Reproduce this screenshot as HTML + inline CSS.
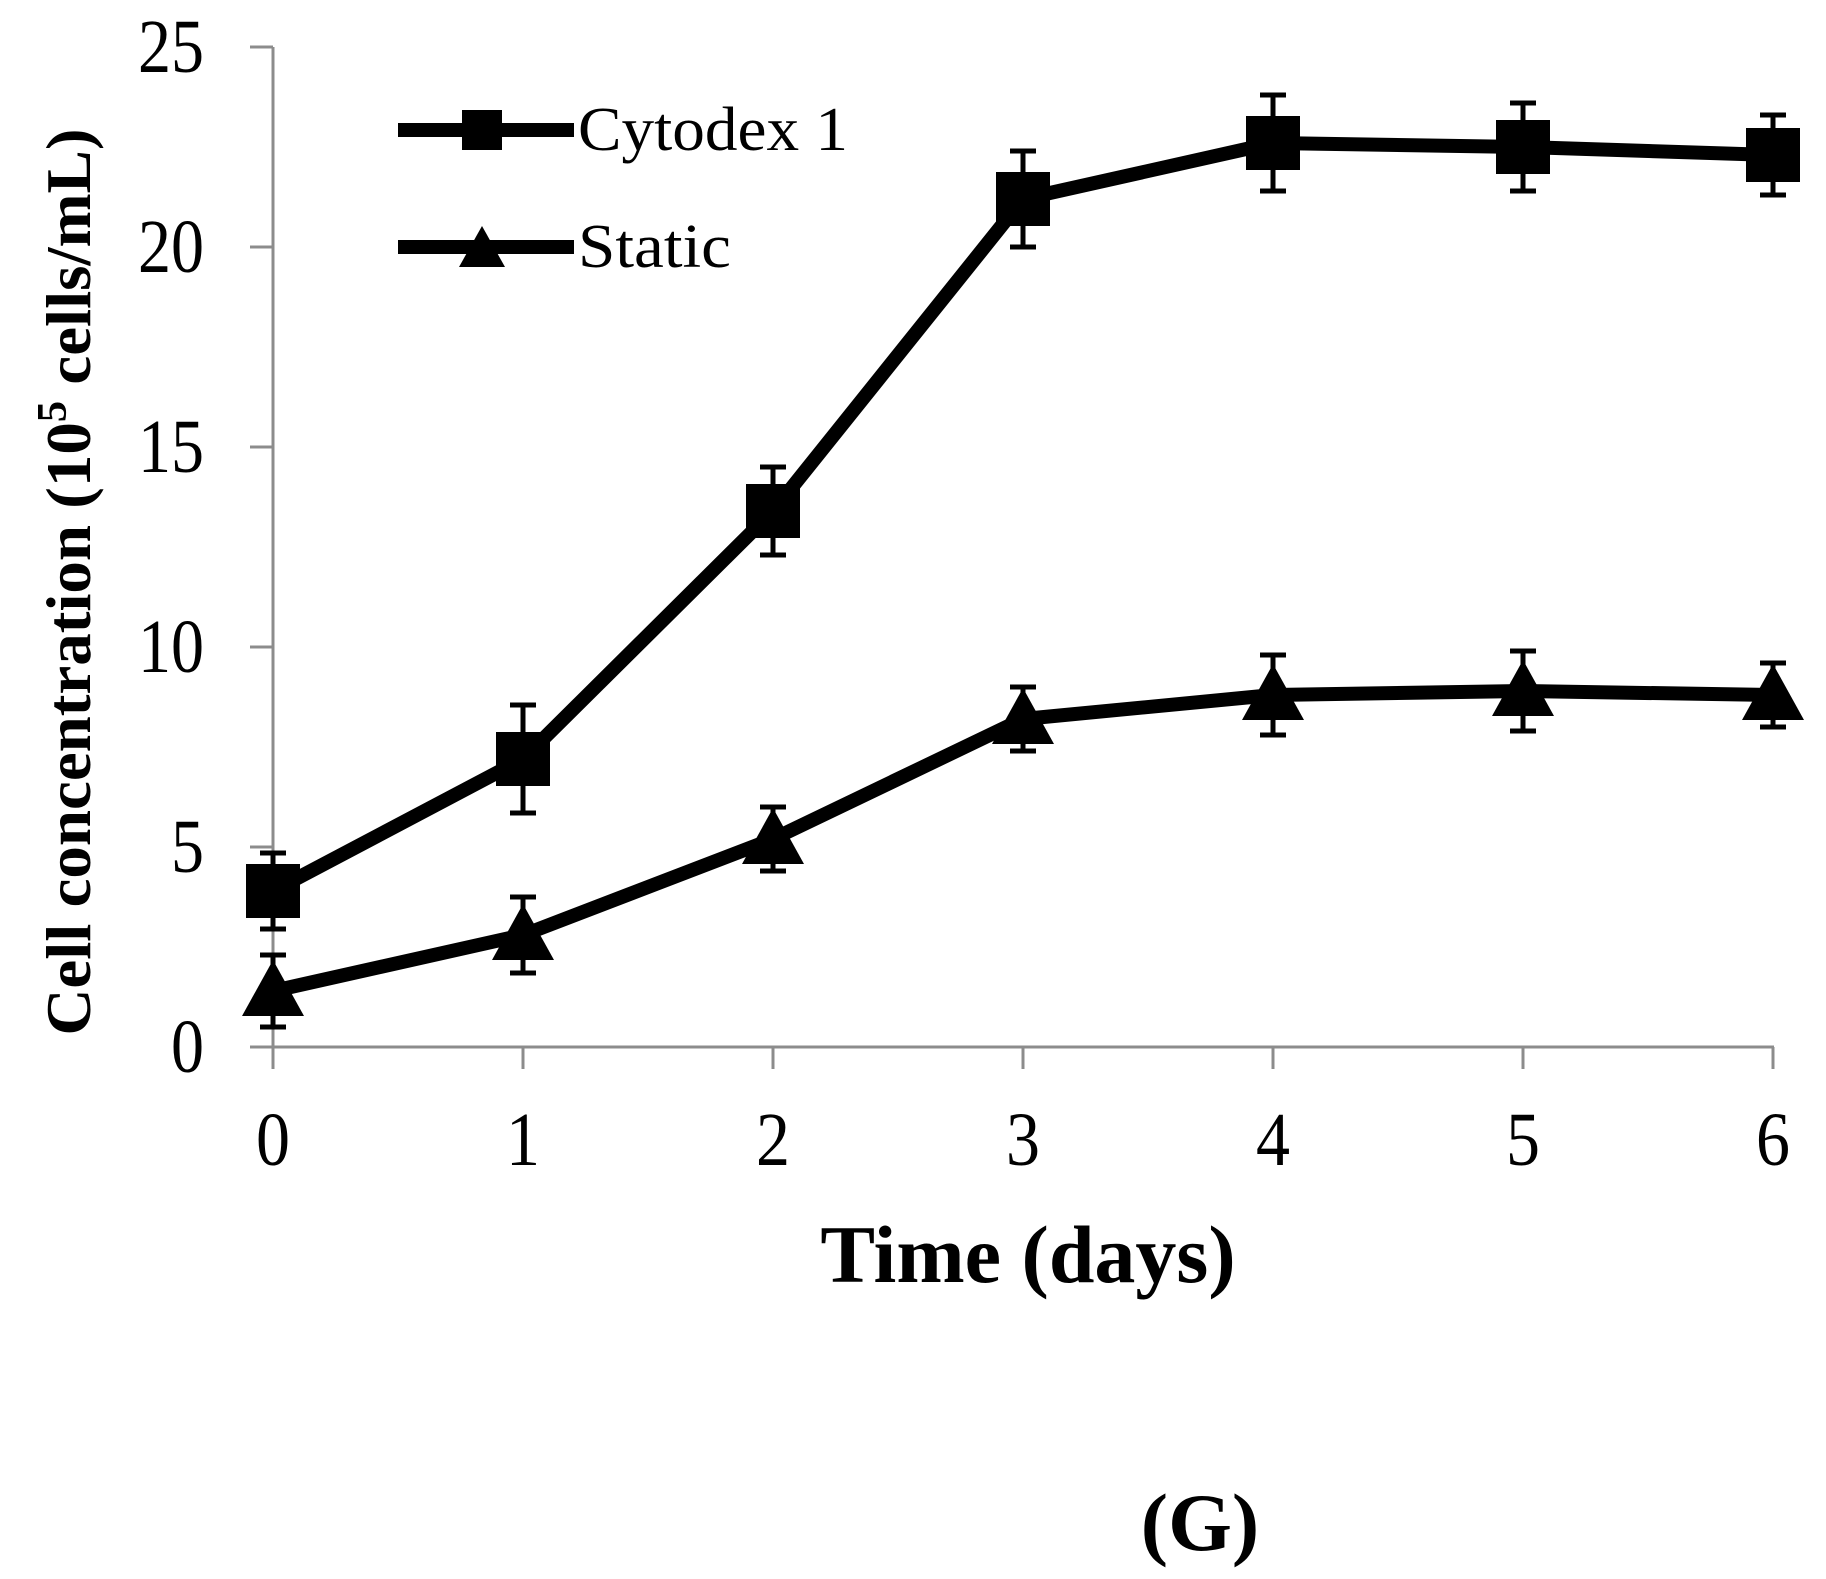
<!DOCTYPE html>
<html><head><meta charset="utf-8"><style>
html,body{margin:0;padding:0;background:#fff;}
svg{display:block;font-family:"Liberation Serif",serif;}
</style></head><body>
<svg id="chart" width="1826" height="1579" viewBox="0 0 1826 1579" xmlns="http://www.w3.org/2000/svg">
<g id="axes"></g>
<g id="series"></g>
<g id="legend">
  <line x1="398" y1="130" x2="574" y2="130" stroke="#000" stroke-width="14"/>
  <rect x="462" y="110" width="40" height="40" fill="#000"/>
  <text x="578" y="150" font-size="62" textLength="270" lengthAdjust="spacingAndGlyphs">Cytodex 1</text>
  <line x1="398" y1="247" x2="574" y2="247" stroke="#000" stroke-width="14"/>
  <polygon points="482,226 459,267 505,267" fill="#000"/>
  <text x="578" y="267" font-size="62" textLength="153" lengthAdjust="spacingAndGlyphs">Static</text>
</g>
<text x="1028" y="1282" font-size="82" font-weight="bold" text-anchor="middle">Time (days)</text>
<text transform="translate(90,582) rotate(-90)" font-size="64" font-weight="bold" text-anchor="middle" textLength="907" lengthAdjust="spacingAndGlyphs">Cell concentration (10<tspan font-size="42" dy="-24">5</tspan><tspan dy="24"> cells/mL)</tspan></text>
<text x="1200" y="1550" font-size="82" font-weight="bold" text-anchor="middle">(G)</text>
</svg>
<script>
const days = [0,1,2,3,4,5,6];
const cytodex = [3.9,7.2,13.4,21.2,22.6,22.5,22.3];
const cytodexErr = [0.95,1.35,1.1,1.2,1.2,1.1,1.0];
const staticVals = [1.4,2.8,5.2,8.2,8.8,8.9,8.8];
const staticErr = [0.9,0.95,0.8,0.8,1.0,1.0,0.8];
const yTicks = [0,5,10,15,20,25];
const xTicks = [0,1,2,3,4,5,6];

const NS="http://www.w3.org/2000/svg";
const X = d => 273 + d*250;
const Y = v => 1047 - v*40;
function mk(tag, attrs, parent){const e=document.createElementNS(NS,tag);for(const k in attrs)e.setAttribute(k,attrs[k]);parent.appendChild(e);return e;}
const axes=document.getElementById('axes');
const series=document.getElementById('series');
const g="#8c8c8c";
let e;
e=mk('line',{x1:X(0),y1:Y(25),x2:X(0),y2:Y(0),stroke:g,'stroke-width':3},axes);


e=mk('line',{x1:X(0)-23,y1:Y(0),x2:X(6)+1,y2:Y(0),stroke:g,'stroke-width':3},axes);


yTicks.forEach(t=>{
  e=mk('line',{x1:X(0)-23,y1:Y(t),x2:X(0),y2:Y(t),stroke:g,'stroke-width':3},axes);
  
  
  const s=String(t);
  e=mk('text',{x:204,y:Y(t)+25,'font-size':76,'text-anchor':'end',textLength:33*s.length,lengthAdjust:'spacingAndGlyphs'},axes);
  e.textContent=s;
  
  
});
xTicks.forEach(t=>{
  e=mk('line',{x1:X(t),y1:Y(0),x2:X(t),y2:Y(0)+22,stroke:g,'stroke-width':3},axes);
  
  
  e=mk('text',{x:X(t)-17,y:1165,'font-size':76,textLength:34,lengthAdjust:'spacingAndGlyphs'},axes);
  e.textContent=t;
  
  
});
function drawSeries(vals, errs, name, marker){
  vals.forEach((v,i)=>{
    const x=X(days[i]);
    e=mk('path',{d:`M${x},${Y(v+errs[i])}V${Y(v-errs[i])}M${x-13},${Y(v+errs[i])}h26M${x-13},${Y(v-errs[i])}h26`,stroke:'#000','stroke-width':5,fill:'none'},series);
    
    
  });
  e=mk('polyline',{points:vals.map((v,i)=>X(days[i])+','+Y(v)).join(' '),stroke:'#000','stroke-width':14,fill:'none','stroke-linejoin':'round'},series);
  
  
  vals.forEach((v,i)=>{
    const x=X(days[i]),y=Y(v);
    if(marker==='square'){
      e=mk('rect',{x:x-27,y:y-27,width:54,height:54,fill:'#000'},series);
    } else {
      e=mk('polygon',{points:`${x},${y-31} ${x-31},${y+25} ${x+31},${y+25}`,fill:'#000'},series);
    }
    
    
  });
}
drawSeries(cytodex,cytodexErr,'cytodex','square');
drawSeries(staticVals,staticErr,'static','triangle');
</script>
</body></html>
